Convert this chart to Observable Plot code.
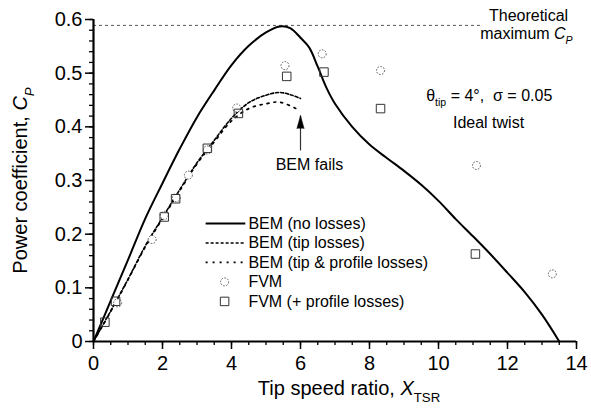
<!DOCTYPE html>
<html><head><meta charset="utf-8">
<script src="https://cdn.jsdelivr.net/npm/d3@7"></script>
<script src="https://cdn.jsdelivr.net/npm/@observablehq/plot@0.6"></script>
<style>
body{margin:0;background:#fff;}
#chart{width:591px;height:410px;}
svg{font-family:"Liberation Sans",Arial,Helvetica,sans-serif;background:#fff;}
</style></head><body><div id="chart"></div>
<script>
// ---- data ----
const tsrNoLoss = [0,0.5,1,1.5,2,2.5,3,3.5,4,4.5,5,5.4,5.7,6,6.25,6.5,6.75,7,7.5,8,8.5,9,9.5,10,10.5,11,11.5,12,12.5,13,13.5];
const cpNoLoss  = [0,0.076,0.152,0.229,0.295,0.359,0.418,0.468,0.515,0.551,0.576,0.587,0.584,0.566,0.548,0.512,0.473,0.443,0.400,0.367,0.342,0.318,0.292,0.262,0.228,0.196,0.163,0.128,0.092,0.050,0];
const tsrTip = [0,0.5,1,1.5,2,2.5,3,3.5,4,4.5,5,5.4,5.7,6.0];
const cpTip  = [0,0.057,0.116,0.178,0.231,0.283,0.333,0.375,0.416,0.445,0.459,0.464,0.460,0.453];
const tsrTipProfile = [0,0.5,1,1.5,2,2.5,3,3.5,4,4.5,5,5.4,5.9];
const cpTipProfile  = [0,0.056,0.115,0.176,0.229,0.281,0.331,0.372,0.411,0.434,0.443,0.446,0.433];
const tsrFvm = [0.7,1.7,2.05,2.4,2.75,3.3,4.15,5.55,6.63,8.32,11.1,13.3];
const cpFvm  = [0.072,0.19,0.235,0.268,0.31,0.357,0.435,0.514,0.536,0.505,0.328,0.126];
const tsrFvmProfile = [0.33,0.64,2.05,2.38,3.3,4.2,5.6,6.68,8.32,11.07];
const cpFvmProfile  = [0.036,0.075,0.232,0.266,0.36,0.425,0.494,0.502,0.434,0.163];
const betzCp = 0.589;
const betzEndTsr = 11.27;
const xMajor = [0,2,4,6,8,10,12,14];
const xMinor = d3.range(0,14.01,0.5);
const yMajor = [0,0.1,0.2,0.3,0.4,0.5,0.6];
const yMinor = d3.range(0,0.601,0.02);
const legendLabels = ["BEM (no losses)","BEM (tip losses)","BEM (tip & profile losses)","FVM","FVM (+ profile losses)"];
const annotationText = ["Theoretical","maximum *C*_{*P*}","θ_{tip} = 4°,  σ = 0.05","Ideal twist","BEM fails"];
const annotationTsr  = [12.61,12.55,11.47,11.45,6.26];
const annotationCp   = [0.607,0.574,0.458,0.408,0.330];
const arrowTsr = 6.0, arrowFromCp = 0.356, arrowToCp = 0.421;

// ---- helpers ----
const rows = (xs, ys) => xs.map((x, i) => ({x, y: ys[i]}));
const legendRowCp = legendLabels.map((_, i) => 0.2199 - i * 0.0363);
const legendLineX1 = 3.25, legendLineX2 = 4.40, legendMarkX = 3.80, legendTextX = 4.49;
const styles = [
  {dash: null, w: 2},
  {dash: "3,2", w: 1.6},
  {dash: "2,5", w: 1.7}
];
const curves = [rows(tsrNoLoss, cpNoLoss), rows(tsrTip, cpTip), rows(tsrTipProfile, cpTipProfile)];
const annots = annotationText.map((t, i) => ({t, x: annotationTsr[i], y: annotationCp[i]}));
const lineLegend = [0,1,2].map(i => ({i, y: legendRowCp[i]}));
const circleStyle = {r: 4, stroke: "#555", strokeWidth: 1, strokeDasharray: "1.6,1.4", fill: "white"};
const squareStyle = {symbol: "square", r: 4.8, stroke: "#333", strokeWidth: 1, fill: "none"};

const plot = Plot.plot({
  width: 591, height: 410,
  marginLeft: 93, marginRight: 15, marginTop: 19, marginBottom: 69,
  x: {domain: [0, 14]},
  y: {domain: [0, 0.6]},
  style: {fontFamily: '"Liberation Sans", Arial, sans-serif', color: "black"},
  marks: [
    Plot.ruleY([betzCp], {x1: 0, x2: betzEndTsr, stroke: "#555", strokeWidth: 1, strokeDasharray: "3,3"}),
    ...curves.map((c, i) => Plot.line(c, {x: "x", y: "y", curve: "catmull-rom", stroke: "black",
        strokeWidth: styles[i].w, strokeDasharray: styles[i].dash})),
    Plot.dot(rows(tsrFvm, cpFvm), {x: "x", y: "y", ...circleStyle}),
    Plot.dot(rows(tsrFvmProfile, cpFvmProfile), {x: "x", y: "y", ...squareStyle}),
    // legend
    ...lineLegend.map(d => Plot.link([d], {x1: () => legendLineX1, x2: () => legendLineX2, y1: "y", y2: "y",
        stroke: "black", strokeWidth: styles[d.i].w, strokeDasharray: styles[d.i].dash})),
    Plot.dot([legendRowCp[3]], {x: () => legendMarkX, y: d => d, ...circleStyle}),
    Plot.dot([legendRowCp[4]], {x: () => legendMarkX, y: d => d, ...squareStyle}),
    Plot.text(legendLabels, {x: () => legendTextX, y: (d, i) => legendRowCp[i], text: d => d,
        textAnchor: "start", fontSize: 16, fill: "black"}),
    // annotations
    Plot.text(annots, {x: "x", y: "y", text: "t", textAnchor: "middle", fontSize: 16, fill: "black"}),
    Plot.link([{x: arrowTsr, y1: arrowFromCp, y2: arrowToCp}], {x1: "x", x2: "x", y1: "y1", y2: "y2", stroke: "#333", strokeWidth: 1.2}),
    Plot.vector([{x: arrowTsr, y: arrowToCp}], {x: "x", y: "y", length: 13, shape: "spike", r: 3.6, anchor: "end", fill: "black", stroke: "black", strokeWidth: 0.5}),
    // axes
    Plot.axisX({ticks: xMinor, tickSize: 4, tickFormat: () => "", label: null, strokeWidth: 1.3}),
    Plot.axisX({ticks: xMajor, tickSize: 8, tickPadding: 6, fontSize: 20, label: null, strokeWidth: 1.5, tickFormat: d => String(d)}),
    Plot.axisY({ticks: yMinor, tickSize: 4, tickFormat: () => "", label: null, strokeWidth: 1.3}),
    Plot.axisY({ticks: yMajor, tickSize: 8, tickPadding: 3, fontSize: 20, label: null, strokeWidth: 1.5, tickFormat: d => d === 0 ? "0" : d.toFixed(1)}),
    Plot.ruleY([0], {stroke: "black", strokeWidth: 2.2}),
    Plot.ruleX([0], {stroke: "black", strokeWidth: 2.2}),
    // axis titles
    Plot.text(["Tip speed ratio, *X*_{TSR}"], {frameAnchor: "bottom", text: d => d, textAnchor: "middle", lineAnchor: "middle", dx: 14, dy: 47, fontSize: 20, fill: "black"}),
    Plot.text(["Power coefficient, *C*_{*P*}"], {frameAnchor: "left", text: d => d, textAnchor: "middle", lineAnchor: "middle", dx: -73, rotate: -90, fontSize: 20, fill: "black"})
  ]
});
document.getElementById("chart").appendChild(plot);

// rich text: _{sub} and *italic*
d3.select(plot).selectAll("text").each(function() {
  const t = this.textContent;
  if (!/[_*]/.test(t)) return;
  const fs = parseFloat(getComputedStyle(this).fontSize) || 16;
  const sel = d3.select(this);
  sel.text(null);
  const toks = t.match(/_\{[^}]*\}|\*[^*]*\*|[^_*]+/g);
  let shift = 0;
  for (const tok of toks) {
    if (tok.startsWith("_{")) {
      let inner = tok.slice(2, -1), ital = false;
      if (inner.startsWith("*")) { inner = inner.slice(1, -1); ital = true; }
      const s = fs * 0.33;
      sel.append("tspan").attr("font-size", fs * 0.66).attr("dy", s - shift)
        .attr("font-style", ital ? "italic" : null).text(inner);
      shift = s;
    } else {
      const ital = tok.startsWith("*");
      const sp = sel.append("tspan").attr("font-style", ital ? "italic" : null)
        .text(ital ? tok.slice(1, -1) : tok);
      if (shift) { sp.attr("dy", -shift); shift = 0; }
    }
  }
});
</script></body></html>
